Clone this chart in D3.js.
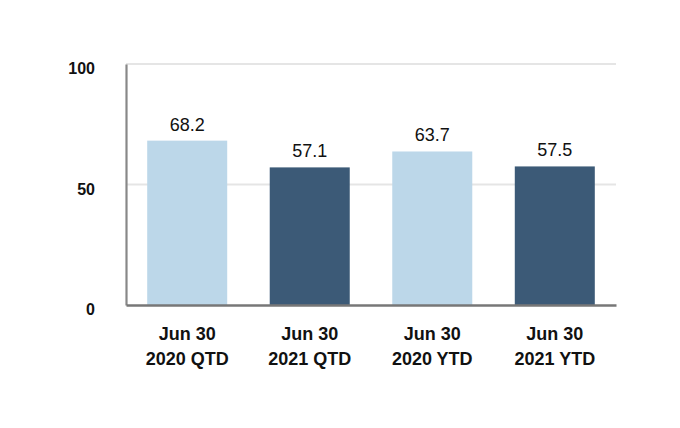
<!DOCTYPE html>
<html>
<head>
<meta charset="utf-8">
<script src="https://cdn.jsdelivr.net/npm/d3@7"></script>
<style>
  body { margin: 0; background: #fff; }
  svg { display: block; font-family: "Liberation Sans", Arial, sans-serif; }
</style>
</head>
<body>
<div class="chart"></div>
<script>
var categories = [["Jun 30", "2020 QTD"], ["Jun 30", "2021 QTD"], ["Jun 30", "2020 YTD"], ["Jun 30", "2021 YTD"]];
var values = [68.2, 57.1, 63.7, 57.5];
var barColors = ["#bcd7e9", "#3c5a77", "#bcd7e9", "#3c5a77"];
var yTicks = [0, 50, 100];

var svgWidth = 680;
var svgHeight = 428;

var svg = d3.select(".chart")
  .append("svg")
  .attr("width", svgWidth)
  .attr("height", svgHeight);

var xScale = d3.scaleBand()
  .domain(d3.range(categories.length))
  .range([126, 616])
  .paddingInner(0.347)
  .paddingOuter(0.173);

var yScale = d3.scaleLinear()
  .domain([0, 100])
  .range([305, 64]);

// gridlines
svg.append("g")
  .selectAll("line")
  .data(yTicks.filter(d => d > 0))
  .enter()
  .append("line")
  .attr("x1", 126)
  .attr("x2", 616)
  .attr("y1", d => yScale(d))
  .attr("y2", d => yScale(d))
  .attr("stroke", "#e5e5e5")
  .attr("stroke-width", 2);

// bars
svg.append("g")
  .selectAll("rect")
  .data(values)
  .enter()
  .append("rect")
  .attr("x", (d, i) => xScale(i))
  .attr("y", d => yScale(d))
  .attr("width", xScale.bandwidth())
  .attr("height", d => yScale(0) - yScale(d))
  .attr("fill", (d, i) => barColors[i]);

// value labels
svg.append("g")
  .selectAll("text")
  .data(values)
  .enter()
  .append("text")
  .attr("x", (d, i) => xScale(i) + xScale.bandwidth() / 2)
  .attr("y", d => yScale(d) - 10)
  .attr("text-anchor", "middle")
  .attr("font-size", 18)
  .attr("fill", "#111")
  .text(d => d.toFixed(1));

// y axis
var leftAxis = d3.axisLeft(yScale).tickValues(yTicks).tickSize(0).tickPadding(31);
var yAxis = svg.append("g").attr("transform", "translate(126,0)").call(leftAxis);
yAxis.select(".domain").attr("stroke", "#888").attr("stroke-width", 2.2);
yAxis.selectAll("text")
  .attr("font-size", 16)
  .attr("font-weight", "bold")
  .attr("font-family", "Liberation Sans, Arial, sans-serif")
  .attr("fill", "#111")
  .attr("dy", "0.6em");

// x axis
var bottomAxis = d3.axisBottom(xScale).tickSize(0).tickFormat("");
var xAxis = svg.append("g").attr("transform", "translate(0,305)").call(bottomAxis);
xAxis.select(".domain").attr("stroke", "#777").attr("stroke-width", 2.6);

var xLabels = svg.append("g")
  .selectAll("text")
  .data(categories)
  .enter()
  .append("text")
  .attr("x", (d, i) => xScale(i) + xScale.bandwidth() / 2)
  .attr("y", 340)
  .attr("text-anchor", "middle")
  .attr("font-size", 18)
  .attr("font-weight", "bold")
  .attr("fill", "#111");

xLabels.append("tspan").text(d => d[0]);
xLabels.append("tspan")
  .attr("x", (d, i) => xScale(i) + xScale.bandwidth() / 2)
  .attr("dy", 25)
  .text(d => d[1]);
</script>
</body>
</html>
